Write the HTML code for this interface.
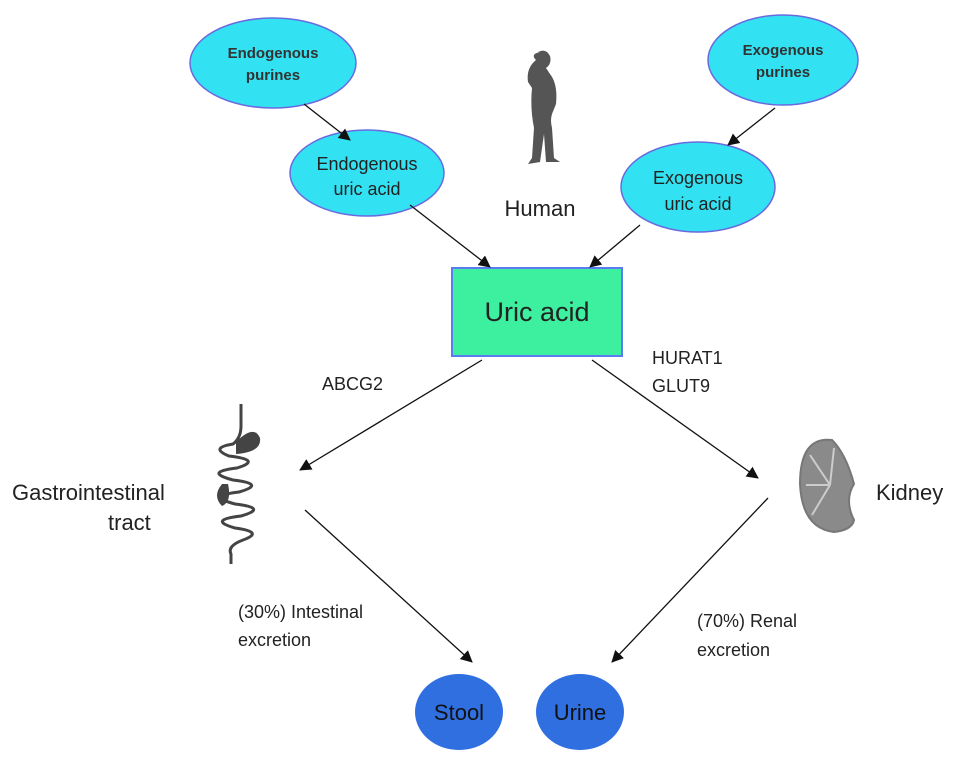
<!DOCTYPE html>
<html><head><meta charset="utf-8"><style>body{margin:0;background:#fff}svg{display:block}text{font-family:"Liberation Sans",sans-serif;fill:#222}</style></head><body>
<svg width="969" height="767" viewBox="0 0 969 767" xmlns="http://www.w3.org/2000/svg">
<defs><marker id="a" markerWidth="12" markerHeight="12" refX="11" refY="6" orient="auto" markerUnits="userSpaceOnUse"><path d="M0,0 L12,6 L0,12 z" fill="#111"/></marker></defs>
<g stroke="#6a6adf" stroke-width="1.5" fill="#33e2f2">
<ellipse cx="273" cy="63" rx="83" ry="45"/>
<ellipse cx="783" cy="60" rx="75" ry="45"/>
<ellipse cx="367" cy="173" rx="77" ry="43"/>
<ellipse cx="698" cy="187" rx="77" ry="45"/>
</g>
<rect x="452" y="268" width="170" height="88" fill="#3cf0a0" stroke="#5a7cf0" stroke-width="2"/>
<ellipse cx="459" cy="712" rx="44" ry="38" fill="#2f6fe0"/>
<ellipse cx="580" cy="712" rx="44" ry="38" fill="#2f6fe0"/>
<g stroke="#111" stroke-width="1.3" marker-end="url(#a)">
<line x1="304" y1="104" x2="350" y2="140"/>
<line x1="775" y1="108" x2="728" y2="145"/>
<line x1="410" y1="205" x2="490" y2="267"/>
<line x1="640" y1="225" x2="590" y2="267"/>
<line x1="482" y1="360" x2="300" y2="470"/>
<line x1="592" y1="360" x2="758" y2="478"/>
<line x1="305" y1="510" x2="472" y2="662"/>
<line x1="768" y1="498" x2="612" y2="662"/>
</g>
<g font-size="15" text-anchor="middle" font-weight="bold"><text x="273" y="58" style="fill:#333">Endogenous</text><text x="273" y="80" style="fill:#333">purines</text>
<text x="783" y="55" style="fill:#333">Exogenous</text><text x="783" y="77" style="fill:#333">purines</text></g>
<g font-size="18" text-anchor="middle"><text x="367" y="170">Endogenous</text><text x="367" y="195">uric acid</text>
<text x="698" y="184">Exogenous</text><text x="698" y="210">uric acid</text></g>
<text x="537" y="321" font-size="27" text-anchor="middle">Uric acid</text>
<text x="540" y="216" font-size="22" text-anchor="middle">Human</text>
<g font-size="18"><text x="322" y="390">ABCG2</text><text x="652" y="364">HURAT1</text><text x="652" y="392">GLUT9</text>
<text x="238" y="618">(30%) Intestinal</text><text x="238" y="646">excretion</text>
<text x="697" y="627">(70%) Renal</text><text x="697" y="656">excretion</text></g>
<g font-size="22"><text x="12" y="500">Gastrointestinal</text><text x="108" y="530">tract</text><text x="876" y="500">Kidney</text></g>
<g font-size="22" text-anchor="middle"><text x="459" y="720" style="fill:#111">Stool</text><text x="580" y="720" style="fill:#111">Urine</text></g>
<!-- human -->
<path d="M538,52 q8,-4 12,4 q2,8 -4,12 l4,6 q8,10 6,30 l-4,10 q-2,6 0,14 l2,30 l6,4 l-14,0 l-2,-28 l-4,28 l-12,2 l4,-6 l2,-30 q-4,-20 -2,-40 l-4,-6 q-2,-14 8,-22 q-6,-6 4,-8z" fill="#555"/>
<!-- GI -->
<g fill="none" stroke="#444" stroke-width="3"><path d="M241,404 v22 q0,12 -8,18 q-24,4 -4,12 q34,4 8,12 q-34,4 -4,12 q34,4 6,12 q-34,4 -4,12 q34,4 6,12 q-34,4 -6,12 q30,4 8,12 q-16,6 -12,14 v10"/></g>
<path d="M236,442 q18,-18 24,-4 q2,14 -24,16z" fill="#444"/>
<path d="M222,484 q-10,12 0,22 q10,-4 6,-22z" fill="#444"/>
<!-- kidney -->
<path d="M832,440 q-32,-4 -32,44 q2,44 34,48 q18,-2 20,-12 q-10,-20 0,-36 q-8,-30 -22,-44z" fill="#8a8a8a" stroke="#777" stroke-width="2"/>
<g stroke="#ccc" stroke-width="2"><line x1="830" y1="485" x2="810" y2="455"/><line x1="830" y1="485" x2="806" y2="485"/><line x1="830" y1="485" x2="812" y2="515"/><line x1="830" y1="485" x2="834" y2="448"/></g>
</svg>
</body></html>
